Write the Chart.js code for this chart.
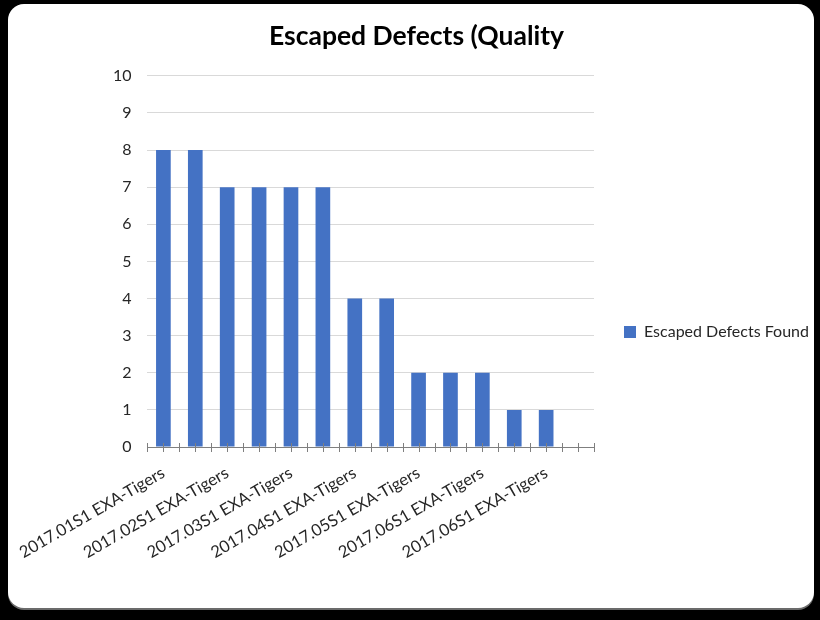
<!DOCTYPE html>
<html>
<head>
<meta charset="utf-8">
<script src="https://cdn.jsdelivr.net/npm/chart.js@4.4.1/dist/chart.umd.min.js"></script>
<style>
  html, body { margin: 0; padding: 0; background: #000; }
  body { width: 820px; height: 620px; position: relative; overflow: hidden; }
  #card {
    position: absolute; left: 8px; top: 4px; width: 806px; height: 604px;
    background: #fff; border-radius: 16px;
    box-shadow: 0 2px 0 #6b6b6b;
  }
  #chart { position: absolute; left: 0; top: 0; }
</style>
</head>
<body>
<div id="card"><canvas id="chart" width="806" height="656"></canvas></div>
<script>
// Sprint categories (only every other one carries a printed label)
const categories = [
  "2017.01S1 EXA-Tigers", "2017.01S2 EXA-Tigers",
  "2017.02S1 EXA-Tigers", "2017.02S2 EXA-Tigers",
  "2017.03S1 EXA-Tigers", "2017.03S2 EXA-Tigers",
  "2017.04S1 EXA-Tigers", "2017.04S2 EXA-Tigers",
  "2017.05S1 EXA-Tigers", "2017.05S2 EXA-Tigers",
  "2017.06S1 EXA-Tigers", "2017.06S2 EXA-Tigers",
  "2017.06S1 EXA-Tigers", "2017.06S2 EXA-Tigers"
];
const escapedDefectsFound = [8, 8, 7, 7, 7, 7, 4, 4, 2, 2, 2, 1, 1, null];
const yTicks = [0, 1, 2, 3, 4, 5, 6, 7, 8, 9, 10];

const FONT = "Lato, 'Open Sans', sans-serif";
const TEXT = "#262626";

// Cross-style tick marks at every category centre and boundary on the x axis
const crossTicks = {
  id: "crossTicks",
  afterDatasetsDraw(chart) {
    const xs = chart.scales.x;
    const y = Math.round(chart.scales.y.getPixelForValue(0));
    const ctx = chart.ctx;
    const n = categories.length;
    const step = n > 1 ? xs.getPixelForValue(1) - xs.getPixelForValue(0) : xs.width;
    const mark = px => {
      const x = Math.round(px) + 0.5;
      ctx.moveTo(x, y - 4);
      ctx.lineTo(x, y + 5);
    };
    ctx.save();
    ctx.strokeStyle = "#7f7f7f";
    ctx.lineWidth = 1;
    ctx.beginPath();
    for (let i = 0; i < n; i++) {
      const c = xs.getPixelForValue(i);
      mark(c - step / 2);
      mark(c);
    }
    mark(xs.getPixelForValue(n - 1) + step / 2);
    ctx.stroke();
    ctx.restore();
  }
};

new Chart(document.getElementById("chart"), {
  type: "bar",
  data: {
    labels: categories,
    datasets: [{
      label: "Escaped Defects Found",
      data: escapedDefectsFound,
      backgroundColor: "#4472C4",
      borderWidth: 0,
      categoryPercentage: 1.0,
      barPercentage: 0.46
    }]
  },
  plugins: [crossTicks],
  options: {
    responsive: false,
    animation: false,
    layout: { padding: { left: 11, right: 0, top: 0, bottom: 0 } },
    plugins: {
      title: {
        display: true,
        text: "Escaped Defects (Quality",
        color: "#000",
        font: { family: FONT, size: 26.5, weight: "bold" },
        padding: { top: 17, bottom: 23 }
      },
      legend: {
        position: "right",
        align: "center",
        maxWidth: 220,
        labels: {
          boxWidth: 12, boxHeight: 12, padding: 30,
          color: TEXT,
          font: { family: FONT, size: 16 }
        }
      },
      tooltip: { enabled: false }
    },
    scales: {
      x: {
        offset: true,
        afterFit: axis => { axis.height = 213; },
        grid: { display: false },
        border: { display: true, color: "#7f7f7f", width: 1 },
        ticks: {
          color: TEXT,
          font: { family: FONT, size: 16.5 },
          autoSkip: false,
          minRotation: 30, maxRotation: 30,
          padding: 8,
          callback: function (value, index) {
            return index % 2 === 0 ? this.getLabelForValue(value) : "";
          }
        }
      },
      y: {
        min: 0, max: 10,
        afterFit: axis => { axis.width = 127; },
        afterBuildTicks: axis => { axis.ticks = yTicks.map(v => ({ value: v })); },
        grid: { color: "#d9d9d9", drawTicks: false },
        border: { display: false },
        ticks: {
          color: TEXT,
          font: { family: FONT, size: 16 },
          padding: 16
        }
      }
    }
  }
});
</script>
</body>
</html>
